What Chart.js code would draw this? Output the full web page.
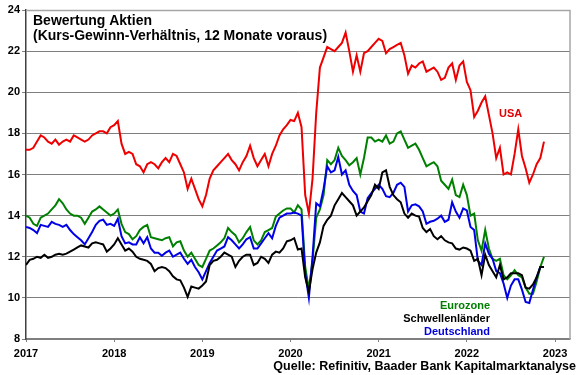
<!DOCTYPE html>
<html>
<head>
<meta charset="utf-8">
<script src="https://cdn.jsdelivr.net/npm/chart.js@4"></script>
<style>
  body { margin: 0; background: #fff; }
  #wrap { width: 580px; height: 375px; }
</style>
</head>
<body>
<div id="wrap"><canvas id="kgvChart" width="580" height="375"></canvas></div>
<script>
// semi-monthly readings, first point = start of 2017
const startYear = 2017;
const stepsPerYear = 24;

const usa = [
  17.2, 17.2, 17.3, 17.6, 17.9, 17.8, 17.6, 17.5, 17.7, 17.45, 17.6, 17.7, 17.6, 17.9, 17.8, 17.7, 17.6, 17.7, 17.9, 18.0, 18.1, 18.1, 18.0, 18.3,
  18.4, 18.6, 17.5, 17.0, 17.1, 17.0, 16.5, 16.4, 16.1, 16.5, 16.6, 16.5, 16.3, 16.6, 16.8, 16.6, 17.0, 16.9, 16.5, 16.1, 15.3, 15.8, 15.3, 14.8,
  14.45, 15.0, 15.8, 16.2, 16.4, 16.6, 16.8, 17.0, 16.7, 16.5, 16.2, 16.6, 16.9, 17.4, 16.8, 16.4, 16.7, 17.0, 16.4, 17.0, 17.4, 17.9, 18.2, 18.4,
  18.65, 18.6, 19.0, 18.3, 15.0, 14.1, 15.8, 19.0, 21.2, 21.7, 22.2, 22.1, 22.0, 22.2, 22.4, 22.9, 22.0, 21.0, 21.8, 21.0, 21.9, 22.0, 22.2, 22.4,
  22.6, 22.5, 21.9, 22.1, 22.2, 22.3, 22.4, 21.8, 20.9, 21.3, 21.2, 21.4, 21.5, 21.0, 21.1, 21.2, 21.0, 20.6, 20.7, 21.2, 21.4, 20.6, 21.3, 21.5,
  20.5, 20.1, 18.8, 19.1, 19.5, 19.8, 18.9, 18.0, 16.8, 17.3, 16.0, 16.1, 16.0, 17.0, 18.2, 16.9, 16.3, 15.6, 16.0, 16.5, 16.8, 17.6
];

const eurozone = [
  14.0, 13.9, 13.6, 13.5, 13.9, 14.0, 14.1, 14.3, 14.5, 14.8, 14.6, 14.3, 14.1, 14.0, 14.0, 13.9, 13.6, 13.9, 14.2, 14.3, 14.45, 14.3, 14.15, 14.0,
  14.1, 14.3, 13.6, 13.2, 13.1, 12.85, 13.0, 13.3, 13.45, 13.55, 12.95, 12.9, 12.85, 12.8, 12.9, 12.95, 12.5, 12.7, 12.75, 12.3, 12.0, 12.2, 11.9, 11.6,
  11.5, 11.9, 12.3, 12.4, 12.55, 12.7, 12.9, 13.4, 13.2, 13.05, 12.7, 12.9, 13.2, 13.45, 12.8, 12.6, 12.8, 13.2, 13.3, 13.4, 13.95, 14.1, 14.25, 14.35,
  14.35, 14.15, 14.5, 14.3, 11.5, 10.4, 11.8, 13.9, 14.3, 15.0, 16.7, 16.5, 16.7, 17.3, 16.9, 16.7, 16.45, 16.6, 16.8, 16.0, 16.8, 17.8, 17.8, 17.6,
  17.7, 17.6, 17.9, 17.5, 17.6, 18.0, 18.1, 17.7, 17.3, 17.4, 17.5, 17.2, 16.8, 16.4, 16.5, 16.6, 16.4, 15.7, 15.5, 15.3, 15.75, 15.0, 14.9, 15.5,
  15.0, 14.0, 14.1, 12.8, 12.3, 13.3, 12.4, 11.9, 11.8, 11.9, 11.1, 10.9, 11.1, 11.35, 11.1, 11.0, 10.5, 10.2, 10.2, 10.8, 11.5, 12.0
];

const schwellenlaender = [
  11.6, 11.85, 11.9, 12.0, 11.95, 12.1, 11.95, 12.0, 12.1, 12.15, 12.1, 12.15, 12.25, 12.35, 12.45, 12.55, 12.5, 12.45, 12.65, 12.7, 12.65, 12.6, 12.25, 12.4,
  12.6, 12.9, 12.6, 12.3, 12.4, 12.25, 12.0, 11.9, 11.85, 11.8, 11.65, 11.3, 11.45, 11.5, 11.45, 11.3, 11.05, 10.9, 10.85, 10.5, 10.05, 10.55, 10.5, 10.45,
  10.6, 10.8, 11.6, 11.8, 11.85, 12.0, 12.2, 12.1, 12.0, 11.5, 11.8, 12.0, 12.1, 12.1, 11.6, 11.7, 12.0, 11.9, 11.7, 12.1, 12.25, 12.2, 12.4, 12.75,
  12.8, 12.9, 12.35, 12.4, 11.0, 10.3, 11.4, 12.2, 12.7, 13.5, 13.8, 14.0, 14.5, 14.8, 15.1, 14.9, 14.7, 14.5, 14.0, 14.2, 14.4, 14.7, 15.0, 15.5,
  15.3, 16.1, 16.2, 15.4, 15.0, 14.8, 14.65, 14.1, 13.9, 14.1, 14.0, 13.95, 13.4, 13.2, 13.35, 13.0, 12.85, 13.0, 12.8, 12.7, 12.65, 12.4, 12.35, 12.45,
  12.4, 12.3, 11.8, 11.9, 11.1, 12.1, 11.6, 11.3, 11.0, 11.6, 10.9, 11.0, 11.2, 11.2, 11.2, 11.1, 10.5, 10.45, 10.65, 11.0, 11.5, 11.5
];

const deutschland = [
  13.45, 13.4, 13.3, 13.15, 13.55, 13.5, 13.45, 13.7, 13.6, 13.55, 13.45, 13.55, 13.3, 13.1, 12.95, 12.8, 12.6, 12.9, 13.2, 13.55, 13.75, 13.8, 13.55, 13.6,
  13.5, 13.85, 13.0, 12.65, 12.7, 12.6, 12.6, 12.95, 12.65, 12.95, 12.4, 12.2, 12.2, 12.05, 12.2, 12.3, 12.0, 12.1, 12.2, 11.9, 11.65, 11.85, 11.5, 11.25,
  10.9, 11.3, 11.7, 12.0, 12.3, 12.4, 12.5, 12.95, 12.8, 12.6, 12.4, 12.6, 12.85, 12.95, 12.4, 12.4, 12.65, 12.9, 13.15, 12.9, 13.5, 13.9, 14.0, 14.1,
  14.1, 14.15, 14.1, 14.0, 11.2, 10.0, 12.0, 14.6, 14.45, 15.3, 16.4, 16.1, 16.2, 16.85, 16.0, 16.2, 15.5, 15.2, 15.0, 14.2, 14.1, 14.85, 15.1, 15.3,
  15.5, 15.3, 14.95, 14.9, 15.1, 15.5, 15.6, 15.4, 14.2, 14.5, 14.55, 14.45, 14.2, 13.6, 13.7, 13.75, 13.85, 14.0, 13.7, 13.8, 14.65, 14.2, 13.9, 14.35,
  14.25, 13.45, 13.3, 11.8, 11.6, 12.65, 12.15, 11.9, 11.3, 11.2, 10.7, 10.0, 10.6, 10.9, 10.9, 10.4, 9.8, 9.75, 10.4, 11.0, 11.5, 11.5
];

const xTicks = [2017, 2018, 2019, 2020, 2021, 2022, 2023];
const yTicks = [8, 10, 12, 14, 16, 18, 20, 22, 24];

const titleLines = ['Bewertung Aktien', '(Kurs-Gewinn-Verhältnis, 12 Monate voraus)'];
const sourceText = 'Quelle: Refinitiv, Baader Bank Kapitalmarktanalyse';

const fontFamily = '"Liberation Sans", Arial, sans-serif';

function toPoints(values) {
    return values.map((v, i) => ({ x: startYear + i / stepsPerYear, y: v }));
}

// title, series names and source drawn onto the canvas
const textPlugin = {
    id: 'textPlugin',
    beforeDatasetsDraw(chart) {
        const { ctx, chartArea } = chart;
        ctx.save();
        ctx.strokeStyle = '#a6a6a6';
        ctx.lineWidth = 1.5;
        ctx.beginPath();
        ctx.moveTo(chartArea.left, chartArea.top + 0.5);
        ctx.lineTo(chartArea.right, chartArea.top + 0.5);
        ctx.lineTo(chartArea.right, chartArea.bottom);
        ctx.stroke();
        ctx.restore();
    },
    afterDraw(chart) {
        const ctx = chart.ctx;
        ctx.save();
        ctx.textBaseline = 'alphabetic';
        ctx.fillStyle = '#000';
        ctx.font = 'bold 14px ' + fontFamily;
        ctx.textAlign = 'left';
        ctx.fillText(titleLines[0], 33, 25);
        ctx.fillText(titleLines[1], 33, 40);

        ctx.font = 'bold 11px ' + fontFamily;
        ctx.fillStyle = '#e00000';
        ctx.fillText('USA', 499, 117);

        ctx.textAlign = 'right';
        ctx.fillStyle = '#008000';
        ctx.fillText('Eurozone', 490, 309);
        ctx.fillStyle = '#000';
        ctx.fillText('Schwellenländer', 490, 322);
        ctx.fillStyle = '#0000dd';
        ctx.fillText('Deutschland', 490, 335);

        ctx.font = 'bold 12.5px ' + fontFamily;
        ctx.fillStyle = '#000';
        ctx.fillText(sourceText, 576, 370);
        ctx.restore();
    }
};

const ctx = document.getElementById('kgvChart').getContext('2d');

new Chart(ctx, {
    type: 'line',
    data: {
        datasets: [
            { label: 'Schwellenländer', data: toPoints(schwellenlaender), borderColor: '#000000' },
            { label: 'Deutschland', data: toPoints(deutschland), borderColor: '#0000e6' },
            { label: 'Eurozone', data: toPoints(eurozone), borderColor: '#008000' },
            { label: 'USA', data: toPoints(usa), borderColor: '#ee0000' }
        ]
    },
    options: {
        responsive: false,
        animation: false,
        layout: { padding: { top: 10, right: 10, left: 0, bottom: 0 } },
        elements: {
            point: { radius: 0 },
            line: { borderWidth: 2, tension: 0 }
        },
        plugins: {
            legend: { display: false },
            tooltip: { enabled: false }
        },
        scales: {
            x: {
                type: 'linear',
                min: 2017,
                max: 2023.17,
                afterBuildTicks: scale => { scale.ticks = xTicks.map(v => ({ value: v })); },
                afterFit: scale => { scale.height = 36; },
                grid: { drawOnChartArea: false, color: '#808080', tickLength: 3 },
                border: { color: '#808080', width: 1.5 },
                ticks: {
                    color: '#000',
                    font: { family: fontFamily, size: 11, weight: 'bold' },
                    maxRotation: 0,
                    padding: 5,
                    callback: v => String(v)
                }
            },
            y: {
                min: 8,
                max: 24,
                afterBuildTicks: scale => { scale.ticks = yTicks.map(v => ({ value: v })); },
                afterFit: scale => { scale.width = 26; },
                grid: { color: '#7f7f7f', lineWidth: 1, tickLength: 4 },
                border: { color: '#404040', width: 1.5 },
                ticks: {
                    color: '#000',
                    font: { family: fontFamily, size: 11, weight: 'bold' },
                    padding: 2
                }
            }
        }
    },
    plugins: [textPlugin]
});
</script>
</body>
</html>
